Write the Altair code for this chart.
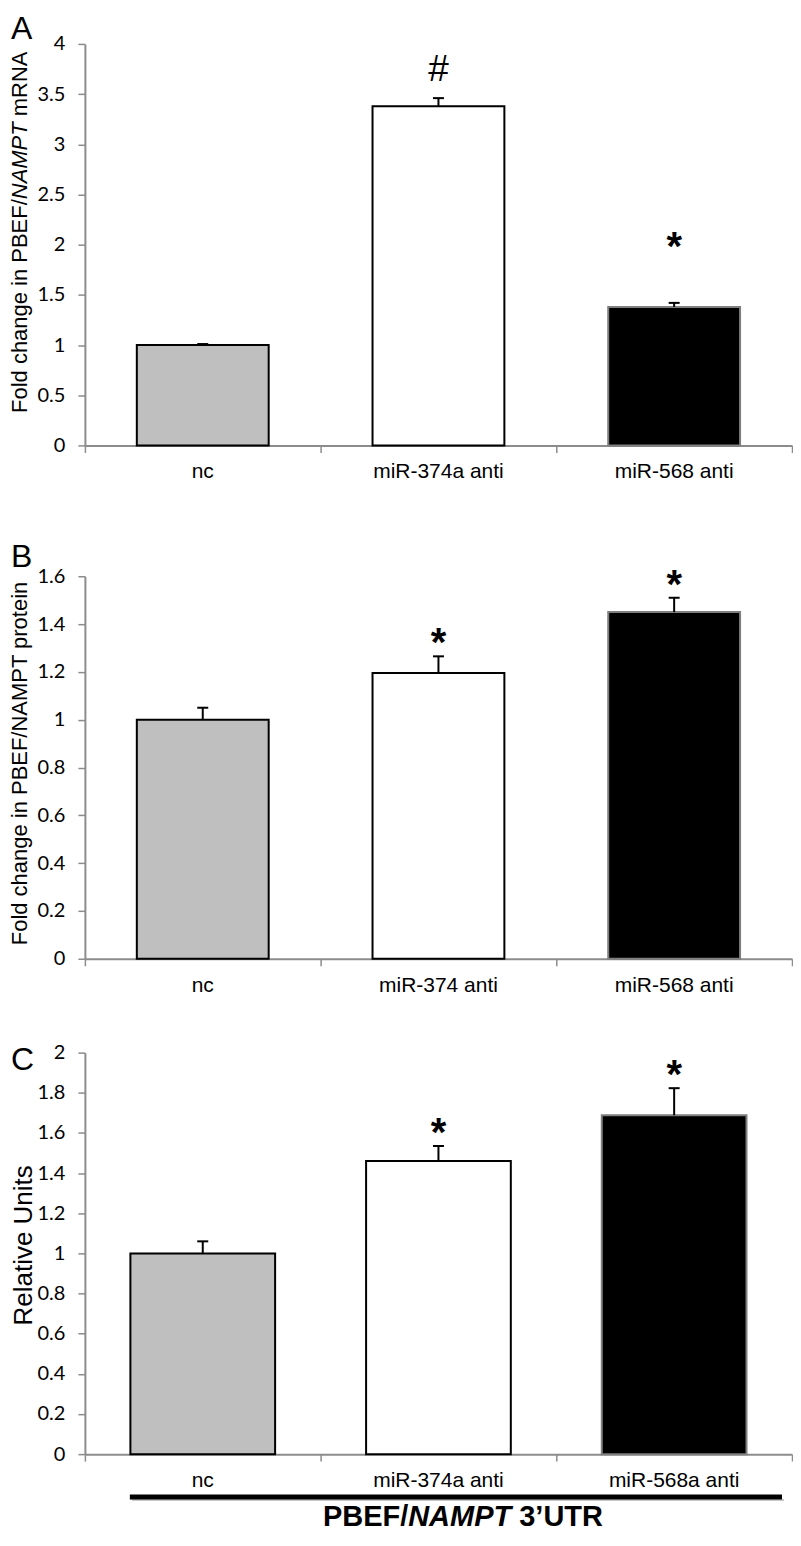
import altair as alt
import pandas as pd

# ---------------- data ----------------
cats_A = ["nc", "miR-374a anti", "miR-568 anti"]
vals_A = [1.0, 3.38, 1.38]
errs_A = [0.01, 0.08, 0.04]
sig_A = ["", "#", "*"]
ticks_A = [0, 0.5, 1, 1.5, 2, 2.5, 3, 3.5, 4]
title_A = ["Fold change in PBEF/", "NAMPT", "mRNA"]

cats_B = ["nc", "miR-374 anti", "miR-568 anti"]
vals_B = [1.0, 1.195, 1.45]
errs_B = [0.05, 0.07, 0.06]
sig_B = ["", "*", "*"]
ticks_B = [0, 0.2, 0.4, 0.6, 0.8, 1, 1.2, 1.4, 1.6]
title_B = "Fold change in PBEF/NAMPT protein"

cats_C = ["nc", "miR-374a anti", "miR-568a anti"]
vals_C = [1.0, 1.46, 1.688]
errs_C = [0.06, 0.075, 0.135]
sig_C = ["", "*", "*"]
ticks_C = [0, 0.2, 0.4, 0.6, 0.8, 1, 1.2, 1.4, 1.6, 1.8, 2]
title_C = "Relative Units"

footer = ["PBEF/", "NAMPT", "3\u2019UTR"]

fills = ["#BFBFBF", "#FFFFFF", "#000000"]
strokes = ["#000000", "#000000", "#7F7F7F"]

# ---------------- style ----------------
W = 708
LEFT = -76
GRAY = "#8C8C8C"
SANS = "Liberation Sans"
CAP = 0.0233


def one(text):
    return alt.Chart(pd.DataFrame({"t": [text]}))


def panel(cats, vals, errs, sigs, ticks, ymax, H, half, letter, letter_y,
          frame_top, frame_bottom, titles, hash_dy=-14, star_dy=0, extra=None):
    df = pd.DataFrame({"cat": cats, "i": list(range(len(cats))),
                       "v": vals, "e": errs, "sig": sigs})
    xs = alt.Scale(domain=[0, 3], nice=False, zero=False)
    ys = alt.Scale(domain=[0, ymax], nice=False)
    xax = alt.Axis(values=[0, 1, 2, 3], labels=False, title=None, grid=False,
                   tickSize=7, tickColor=GRAY, tickWidth=1.5,
                   domainColor=GRAY, domainWidth=2)
    yax = alt.Axis(values=ticks, format="~g", title=None, grid=False,
                   tickSize=7, tickColor=GRAY, tickWidth=1.5,
                   domainColor=GRAY, domainWidth=2,
                   labelFont="Lato", labelFontSize=20, labelColor="black",
                   labelPadding=13)

    def X(f):
        return alt.X(f, scale=xs, axis=xax)

    def Y(f):
        return alt.Y(f, scale=ys, axis=yax)

    base = alt.Chart(df).transform_calculate(
        c="datum.i + 0.5",
        top="datum.v + datum.e",
        x1=f"datum.i + 0.5 - {half}",
        x2=f"datum.i + 0.5 + {half}",
        cl=f"datum.i + 0.5 - {CAP}",
        cr=f"datum.i + 0.5 + {CAP}",
        zero="0",
    )

    frame = one("").mark_rule(opacity=0, strokeOpacity=0).encode(
        x=alt.value(LEFT), x2=alt.value(W),
        y=alt.value(frame_top), y2=alt.value(frame_bottom))

    bars = base.mark_rect(strokeWidth=2).encode(
        x=X("x1:Q"), x2="x2:Q", y=Y("v:Q"), y2="zero:Q",
        fill=alt.Fill("cat:N", scale=alt.Scale(domain=cats, range=fills), legend=None),
        stroke=alt.Stroke("cat:N", scale=alt.Scale(domain=cats, range=strokes), legend=None),
    )
    err = base.mark_rule(color="black", strokeWidth=2).encode(
        x=X("c:Q"), y=Y("v:Q"), y2="top:Q")
    cap = base.mark_rule(color="black", strokeWidth=2).encode(
        x=X("cl:Q"), x2="cr:Q", y=Y("top:Q"))
    hashes = base.transform_filter("datum.sig == '#'").mark_text(
        font=SANS, fontSize=37, baseline="alphabetic", dy=hash_dy, color="black"
    ).encode(x=X("c:Q"), y=Y("top:Q"), text="sig:N")
    stars = base.transform_filter("datum.sig == '*'").mark_text(
        font=SANS, fontSize=40, fontWeight="bold", baseline="alphabetic",
        dy=star_dy, color="black"
    ).encode(x=X("c:Q"), y=Y("top:Q"), text="sig:N")
    labels = base.mark_text(
        font=SANS, fontSize=21, baseline="alphabetic", color="black"
    ).encode(x=X("c:Q"), y=alt.value(H + 33), text="cat:N")
    let = one(letter).mark_text(
        font=SANS, fontSize=32, align="left", baseline="alphabetic", color="black"
    ).encode(x=alt.value(LEFT + 2), y=alt.value(letter_y), text="t:N")

    layers = [frame, bars, err, cap, hashes, stars, labels] + titles + [let]
    if extra:
        layers += extra
    return alt.layer(*layers).properties(width=W, height=H)


# ---- y titles ----
TX = -58
tA = [
    one(title_A[0]).mark_text(font=SANS, fontSize=22, angle=270, align="right",
                              baseline="alphabetic", color="black").encode(
        x=alt.value(TX), y=alt.value(155.5), text="t:N"),
    one(title_A[1]).mark_text(font=SANS, fontSize=22, angle=270, align="left",
                              baseline="alphabetic", fontStyle="italic", color="black").encode(
        x=alt.value(TX), y=alt.value(155.5), text="t:N"),
    one(title_A[2]).mark_text(font=SANS, fontSize=22, angle=270, align="left",
                              baseline="alphabetic", color="black").encode(
        x=alt.value(TX), y=alt.value(72.4), text="t:N"),
]
tB = [one(title_B).mark_text(font=SANS, fontSize=22, angle=270, align="center",
                             baseline="alphabetic", color="black").encode(
    x=alt.value(TX), y=alt.value(187.5), text="t:N")]
tC = [one(title_C).mark_text(font=SANS, fontSize=26, angle=270, align="center",
                             baseline="alphabetic", color="black").encode(
    x=alt.value(-53), y=alt.value(193), text="t:N")]

# ---- footer (under panel C) ----
FY = 474
foot = [
    one("").mark_rule(color="#C8C8C8", strokeWidth=2).encode(
        x=alt.value(47), x2=alt.value(700), y=alt.value(448)),
    one("").mark_rule(color="black", strokeWidth=5).encode(
        x=alt.value(45), x2=alt.value(698), y=alt.value(445)),
    one(footer[0]).mark_text(font=SANS, fontSize=29, fontWeight="bold", align="right",
                             baseline="alphabetic", color="black").encode(
        x=alt.value(323.7), y=alt.value(FY), text="t:N"),
    one(footer[1]).mark_text(font=SANS, fontSize=29, fontWeight="bold", fontStyle="italic",
                             align="left", baseline="alphabetic", color="black").encode(
        x=alt.value(323.7), y=alt.value(FY), text="t:N"),
    one(footer[2]).mark_text(font=SANS, fontSize=29, fontWeight="bold", align="left",
                             baseline="alphabetic", color="black").encode(
        x=alt.value(434.9), y=alt.value(FY), text="t:N"),
]

pA = panel(cats_A, vals_A, errs_A, sig_A, ticks_A, 4, 402, 0.2797, "A", -5,
           -35, 467, tA, hash_dy=-17, star_dy=-43)
pB = panel(cats_B, vals_B, errs_B, sig_B, ticks_B, 1.6, 383, 0.2797, "B", -9,
           -66, 430, tB, star_dy=0)
pC = panel(cats_C, vals_C, errs_C, sig_C, ticks_C, 2, 402, 0.307, "C", 17,
           -47, 470, tC, star_dy=0, extra=foot)

chart = (
    alt.vconcat(pA, pB, pC, spacing=0)
    .resolve_scale(fill="independent", stroke="independent")
    .properties(padding=0)
    .configure_view(stroke=None)
)

chart.save("out.html", embed_options={"renderer": "svg", "actions": False})
